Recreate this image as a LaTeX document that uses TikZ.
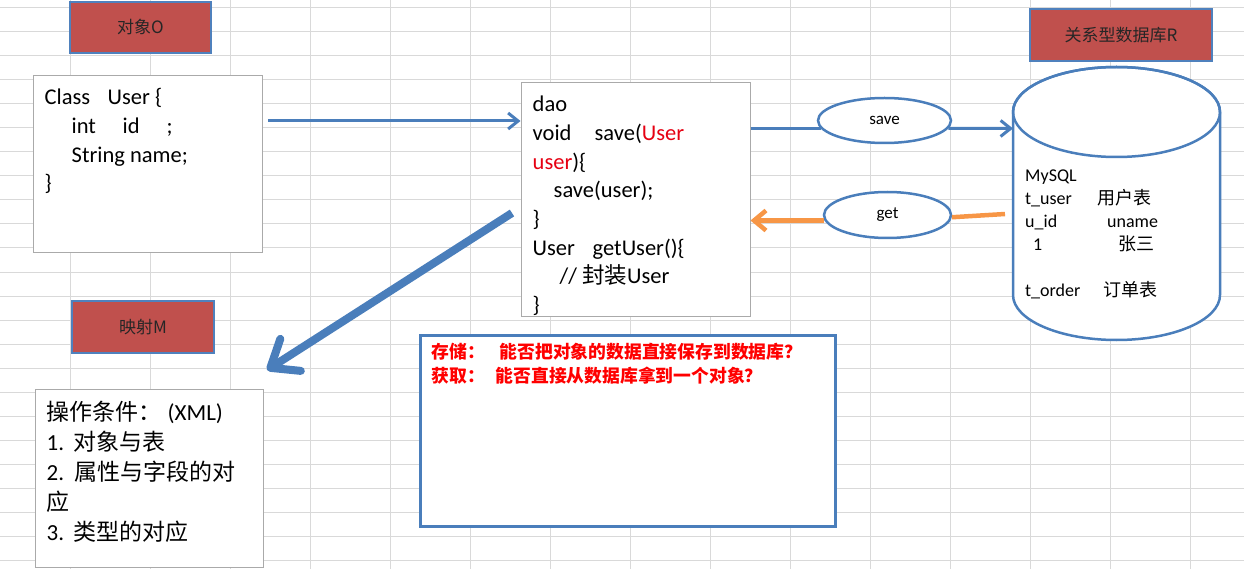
\documentclass[tikz,border=0pt]{standalone}
\usepackage{fontspec}
\setmainfont{Carlito}
\newfontfamily\cjk{Noto Sans CJK SC}
\usetikzlibrary{arrows.meta,shapes.geometric}

\definecolor{gridgray}{RGB}{217,217,217}
\definecolor{boxgray}{RGB}{170,170,170}
\definecolor{titlered}{RGB}{192,80,77}
\definecolor{titleblue}{RGB}{79,129,189}
\definecolor{lineblue}{RGB}{74,126,187}
\definecolor{getorange}{RGB}{247,150,70}
\definecolor{codered}{RGB}{230,0,18}
\definecolor{askred}{RGB}{255,0,0}

\tikzset{
  gridline/.style={gridgray, line width=1pt},
  codebox/.style={draw=boxgray, fill=white, line width=1pt, inner sep=0pt},
  titlebox/.style={draw=titleblue, fill=titlered, line width=2.5pt, inner sep=0pt,
    font=\cjk\fontsize{17}{20}\selectfont, text=black!85},
  opnode/.style={ellipse, draw=lineblue, fill=white, line width=2.5pt, inner sep=0pt,
    font=\fontsize{17}{20}\selectfont},
  codetext/.style={anchor=north west, inner sep=0pt, align=left},
  saveline/.style={lineblue, line width=3pt},
  getline/.style={getorange, line width=4.5pt},
}

\begin{document}
\begin{tikzpicture}[x=1pt,y=-1pt]
\useasboundingbox (0,0) rectangle (1244,569);

% spreadsheet grid
\foreach \i in {0,...,14}
  \draw[gridline] ({70+80.07*\i},0) -- ({70+80.07*\i},569);
\foreach \j in {0,...,23}
  \draw[gridline] (0,{8+24*\j}) -- (1244,{8+24*\j});

\node[titlebox, minimum width=141pt, minimum height=51pt] (objtitle) at (140.5,27.5) {对象O};
\node[titlebox, minimum width=182pt, minimum height=52pt] (dbtitle) at (1121,35) {关系型数据库R};
\node[titlebox, minimum width=142pt, minimum height=52pt] (maptitle) at (143,327) {映射M};

\node[codebox, minimum width=229pt, minimum height=177pt] (classbox) at (147.5,164.5) {};
\node[codebox, minimum width=229pt, minimum height=233pt] (daobox) at (635.5,199.5) {};
\node[codebox, minimum width=228pt, minimum height=178pt] (mapbox) at (149,478) {};
\node[draw=lineblue, fill=white, line width=3pt, minimum width=415pt, minimum height=191pt] (askbox) at (627.5,430.5) {};

\node[codetext, font=\fontsize{22.5}{28.7}\selectfont] (classcode) at ([shift={(12,8.9)}]classbox.north west)
  {\strut\makebox[63pt][l]{Class}User \{\\
   \strut\hspace{27pt}\makebox[51pt][l]{int}\makebox[44pt][l]{id};\\
   \strut\hspace{27pt}String name;\\
   \strut\}};

\node[codetext, font=\fontsize{22.5}{28.7}\selectfont] (daocode) at ([shift={(12,8.9)}]daobox.north west)
  {\strut dao\\
   \strut\makebox[62pt][l]{void}save(\textcolor{codered}{User}\\
   \strut\textcolor{codered}{user})\{\\
   \strut\hspace{21pt}save(user);\\
   \strut\}\\
   \strut\makebox[60pt][l]{User}getUser()\{\\
   \strut\hspace{27pt}// {\cjk 封装}User\\
   \strut\}};

\node[codetext, font=\fontsize{23}{30}\selectfont] (mapcode) at ([shift={(12,10.5)}]mapbox.north west)
  {\strut\makebox[121pt][l]{\cjk 操作条件：}(XML)\\
   \strut\makebox[27pt][l]{1.}{\cjk 对象与表}\\
   \strut\makebox[28pt][l]{2.}{\cjk 属性与字段的对}\\
   \strut{\cjk 应}\\
   \strut\makebox[27pt][l]{3.}{\cjk 类型的对应}};

\node[codetext, text=askred, font=\cjk\bfseries\fontsize{17.8}{24}\selectfont] (asktext) at ([shift={(13,8.2)}]askbox.north west)
  {\strut\makebox[68pt][l]{存储：}能否把对象的数据直接保存到数据库？\\
   \strut\makebox[64pt][l]{获取：}能否直接从数据库拿到一个对象？};

% database cylinder
\draw[lineblue, line width=2.5pt, fill=white]
  (1013,112) -- (1013,295) arc[start angle=180, end angle=360, x radius=103.5pt, y radius=45pt]
  -- (1220,112) arc[start angle=0, end angle=180, x radius=103.5pt, y radius=45pt] -- cycle;
\draw[lineblue, line width=2.5pt] (1116.5,112) ellipse[x radius=103.5pt, y radius=45pt];
\node[codetext, font=\fontsize{18}{23}\selectfont] (dbtext) at (1025,165.4)
  {\strut MySQL\\
   \strut\makebox[72pt][l]{t\_user}{\cjk 用户表}\\
   \strut\makebox[82pt][l]{u\_id}uname\\
   \strut\hspace{8pt}\makebox[85pt][l]{1}{\cjk 张三}\\
   \strut\\
   \strut\makebox[78pt][l]{t\_order}{\cjk 订单表}};

\node[opnode, minimum width=133pt, minimum height=45pt] (save) at (884.5,120.5) {save};
\node[opnode, minimum width=127pt, minimum height=46pt] (get) at (887.5,215) {get};

\coordinate (objout) at (268,121);
\coordinate (dbin) at (1013,128.5);
\coordinate (dbout) at (1005,214);
\coordinate (mapfrom) at (512,213);
\coordinate (mapto) at (267,370);

\draw[saveline, -{Straight Barb[length=10pt,width=16pt]}] (objout) -- (daobox.west |- objout);
\draw[saveline] (daobox.east |- save.187) -- (save.187);
\draw[saveline, -{Straight Barb[length=10pt,width=16pt]}] (save.353) -- (dbin);
\draw[getline] (dbout) -- (get.358);
\draw[getline, -{Straight Barb[length=12pt,width=20pt]}] (get.185) -- (daobox.east |- get.185);
\draw[lineblue, line width=8pt, -{Straight Barb[length=24pt,width=38pt,round]}] (mapfrom) -- (mapto);
\end{tikzpicture}
\end{document}
